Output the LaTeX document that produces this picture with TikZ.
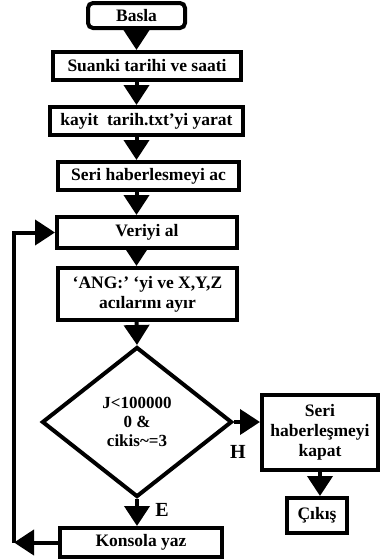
\documentclass[tikz,border=0pt]{standalone}
\usepackage{fontspec}
\setmainfont{Liberation Serif}
\usetikzlibrary{arrows.meta,shapes.geometric}
\begin{document}
\begin{tikzpicture}[x=1pt,y=-1pt,
  font=\fontsize{17.5}{19.5}\selectfont,
  box/.style={draw,line width=4pt,rectangle,inner sep=0pt,align=center,font=\fontsize{17.5}{20}\selectfont\bfseries},
  cond/.style={draw,line width=4pt,diamond,inner sep=0pt,minimum width=190pt,minimum height=150pt,align=center,font=\fontsize{17}{19}\selectfont\bfseries},
  arr/.style={line width=4pt,-{Triangle[width=25pt,length=20pt]}},
  lbl/.style={font=\fontsize{20}{22}\selectfont\bfseries}]
\useasboundingbox (0,0) rectangle (380,560);
\fill[white] (0,0) rectangle (380,560);

% process boxes
\node[box,rounded corners=5pt,minimum width=97pt,minimum height=25pt] (basla) at (136.5,15.5) {Basla};
\node[box,minimum width=188pt,minimum height=28pt] (suanki) at (147,66) {Suanki tarihi ve saati};
\node[box,minimum width=193pt,minimum height=28pt] (kayit) at (146.5,121) {kayit\ \ tarih.txt’yi yarat};
\node[box,minimum width=181pt,minimum height=28pt] (seri) at (148.5,176) {Seri haberlesmeyi ac};
\node[box,minimum width=180pt,minimum height=31pt] (veri) at (147,232.5) {Veriyi al};
\node[box,minimum width=179pt,minimum height=52pt] (ang) at (147.5,294) {‘ANG:’ ‘yi ve X,Y,Z\\acılarını ayır};

% decision
\node[cond] (dia) at (137,422) {J<100000\\0 \&\\cikis\textasciitilde=3};

% exit branch
\node[box,minimum width=116pt,minimum height=75pt] (kapat) at (320,432.5) {Seri\\haberleşmeyi\\kapat};
\node[box,minimum width=60pt,minimum height=35pt] (cikis) at (317,515.5) {Çıkış};

% loop branch
\node[box,minimum width=162pt,minimum height=29pt] (konsola) at (141,542.5) {Konsola yaz};
\coordinate (lp) at (14,542.5);

% connectors
\draw[arr] (basla.south) -- (basla.south |- suanki.north);
\draw[arr] (basla.south |- suanki.south) -- (basla.south |- kayit.north);
\draw[arr] (basla.south |- kayit.south) -- (basla.south |- seri.north);
\draw[arr] (basla.south |- seri.south) -- (basla.south |- veri.north);
\draw[arr] (basla.south |- veri.south) -- (basla.south |- ang.north);
\draw[arr] (basla.south |- ang.south) -- (dia.north);
\draw[arr] (dia.east) -- (dia.east -| kapat.west);
\draw[arr] (kapat.south) -- (kapat.south |- cikis.north);
\draw[arr] (dia.south) -- (dia.south |- konsola.north);
\draw[arr] (konsola.west) -- (lp);
\draw[arr] (lp) |- (veri.west);

% branch labels
\node[lbl] (h) at (238,452) {H};
\node[lbl] (e) at (162,510) {E};
\end{tikzpicture}
\end{document}
